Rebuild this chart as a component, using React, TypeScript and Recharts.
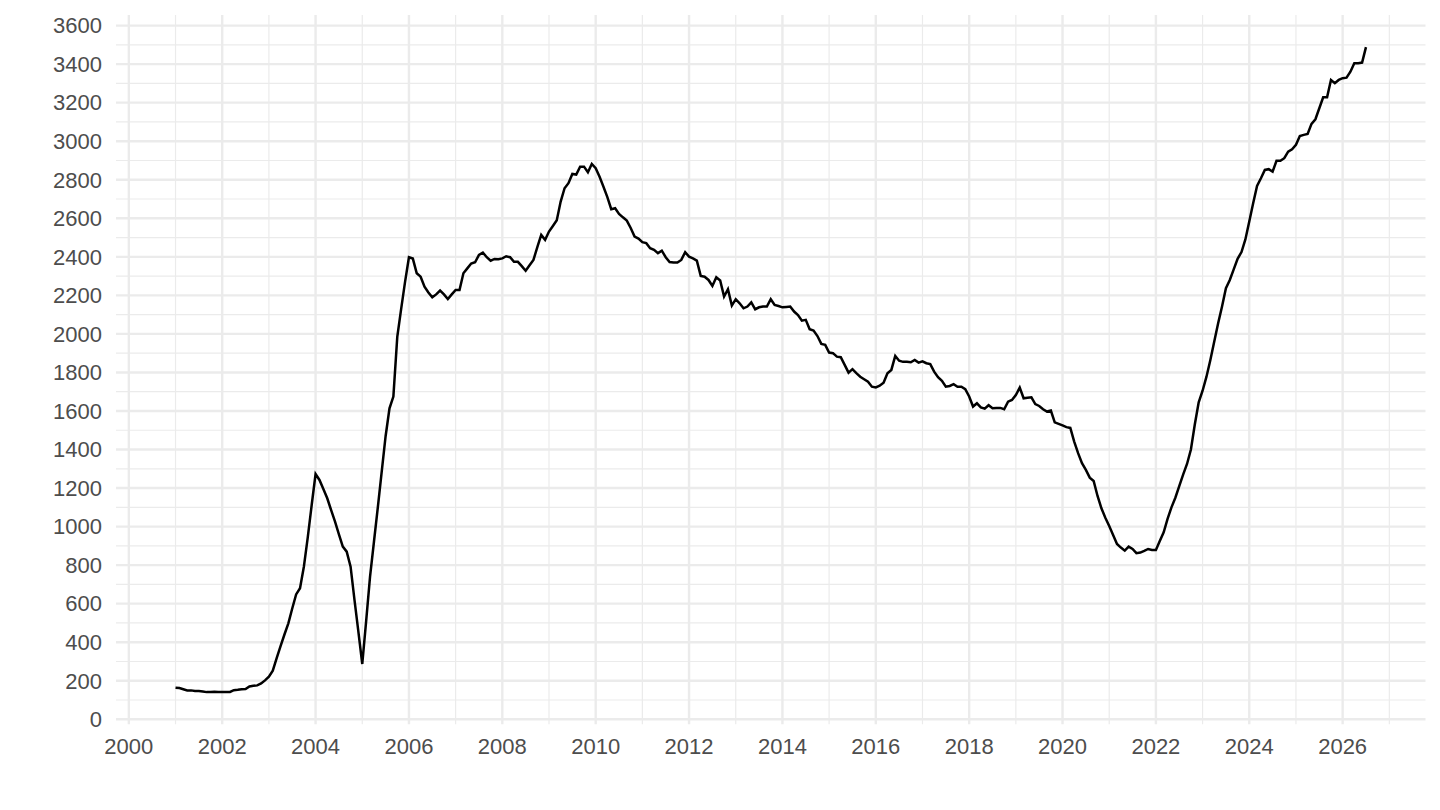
import React from 'react';
import { LineChart, Line, XAxis, YAxis, CartesianGrid } from 'recharts';

// monthly series, first point is January 2001
const startYear = 2001;

const monthlyValues = [
  // 2001
  164, 162, 156, 150, 150, 147, 147, 144, 141, 142, 143, 142,
  // 2002
  142, 141, 142, 151, 153, 156, 157, 170, 174, 176, 186, 202,
  // 2003
  221, 252, 318, 380, 440, 498, 575, 648, 680, 793, 945, 1112,
  // 2004
  1273, 1242, 1195, 1147, 1085, 1026, 960, 896, 870, 792, 620, 455,
  // 2005
  287, 510, 740, 920, 1100, 1285, 1469, 1614, 1675, 1985, 2130, 2270,
  // 2006
  2398, 2391, 2315, 2297, 2245, 2215, 2190, 2205, 2225, 2205, 2181, 2205,
  // 2007
  2228, 2228, 2315, 2340, 2365, 2372, 2410, 2422, 2398, 2380, 2389, 2387,
  // 2008
  2392, 2403, 2398, 2374, 2374, 2352, 2328, 2356, 2384, 2450, 2514, 2488,
  // 2009
  2531, 2560, 2590, 2687, 2756, 2782, 2830, 2827, 2868, 2868, 2839, 2882,
  // 2010
  2860, 2815, 2764, 2710, 2647, 2652, 2623, 2605, 2588, 2550, 2505, 2495,
  // 2011
  2476, 2471, 2445, 2436, 2419, 2432, 2398, 2373, 2370, 2370, 2384, 2424,
  // 2012
  2401, 2392, 2380, 2301, 2297, 2280, 2249, 2294, 2277, 2194, 2232, 2147,
  // 2013
  2180, 2159, 2133, 2142, 2164, 2128, 2138, 2142, 2142, 2180, 2150, 2145,
  // 2014
  2138, 2140, 2142, 2116, 2098, 2069, 2073, 2024, 2017, 1989, 1948, 1943,
  // 2015
  1903, 1900, 1882, 1879, 1839, 1799, 1817, 1796, 1778, 1765, 1752, 1726,
  // 2016
  1722, 1731, 1747, 1796, 1813, 1886, 1861, 1855, 1855, 1853, 1865, 1851,
  // 2017
  1858, 1848, 1843, 1804, 1775, 1756, 1726, 1730, 1739, 1726, 1726, 1713,
  // 2018
  1675, 1623, 1640, 1619, 1612, 1630, 1614, 1616, 1616, 1609, 1648, 1657,
  // 2019
  1683, 1721, 1666, 1669, 1671, 1636, 1626, 1609, 1597, 1602, 1541, 1533,
  // 2020
  1525, 1516, 1512, 1441, 1381, 1329, 1294, 1254, 1237, 1159, 1095, 1046,
  // 2021
  1003, 957, 910, 891, 875, 896, 884, 862, 865, 874, 884, 879,
  // 2022
  879, 925, 970, 1040, 1100, 1150, 1210, 1270, 1325, 1400, 1530, 1645,
  // 2023
  1705, 1778, 1865, 1960, 2055, 2142, 2237, 2280, 2335, 2390, 2425, 2490,
  // 2024
  2583, 2678, 2768, 2808, 2851, 2855, 2842, 2898, 2898, 2912, 2946, 2958,
  // 2025
  2981, 3027, 3033, 3038, 3090, 3114, 3171, 3228, 3228, 3318, 3301, 3318,
  // 2026
  3327, 3330, 3361, 3405, 3405, 3408, 3488,
];

const xMajorTicks = [2000, 2002, 2004, 2006, 2008, 2010, 2012, 2014, 2016, 2018, 2020, 2022, 2024, 2026];
const xMinorTicks = [2001, 2003, 2005, 2007, 2009, 2011, 2013, 2015, 2017, 2019, 2021, 2023, 2025, 2027];
const yMajorTicks = [0, 200, 400, 600, 800, 1000, 1200, 1400, 1600, 1800, 2000, 2200, 2400, 2600, 2800, 3000, 3200, 3400, 3600];
const yMinorTicks = [100, 300, 500, 700, 900, 1100, 1300, 1500, 1700, 1900, 2100, 2300, 2500, 2700, 2900, 3100, 3300, 3500];

const data = monthlyValues.map((value, i) => ({ t: startYear + i / 12, value }));

const tickStyle = { fill: '#4D4D4D', fontSize: 22, fontFamily: '"Liberation Sans", Arial, sans-serif' };

export default function App() {
  return (
    <div style={{ position: 'absolute', left: 0, top: 0, width: 1440, height: 810, background: '#fff' }}>
      <LineChart width={1440} height={810} data={data} margin={{ top: 15, right: 14.5, left: 0, bottom: 55.7 }}>
        <CartesianGrid
          stroke="#EBEBEB"
          strokeWidth={1.2}
          horizontalValues={yMinorTicks}
          verticalValues={xMinorTicks}
        />
        <CartesianGrid
          stroke="#EBEBEB"
          strokeWidth={2.4}
          horizontalValues={yMajorTicks}
          verticalValues={xMajorTicks}
        />
        <XAxis
          dataKey="t"
          type="number"
          domain={[1999.725, 2027.775]}
          ticks={xMajorTicks}
          tickFormatter={(v) => String(Math.round(v))}
          allowDataOverflow
          axisLine={false}
          tickLine={false}
          tickSize={0}
          tickMargin={14}
          height={30}
          tick={tickStyle}
          interval={0}
        />
        <YAxis
          type="number"
          domain={[-26, 3655]}
          ticks={yMajorTicks}
          allowDataOverflow
          axisLine={false}
          tickLine={false}
          tickSize={0}
          tickMargin={14}
          width={116}
          tick={tickStyle}
          interval={0}
        />
        <Line
          type="linear"
          dataKey="value"
          stroke="#000"
          strokeWidth={2.5}
          dot={false}
          isAnimationActive={false}
        />
      </LineChart>
    </div>
  );
}
